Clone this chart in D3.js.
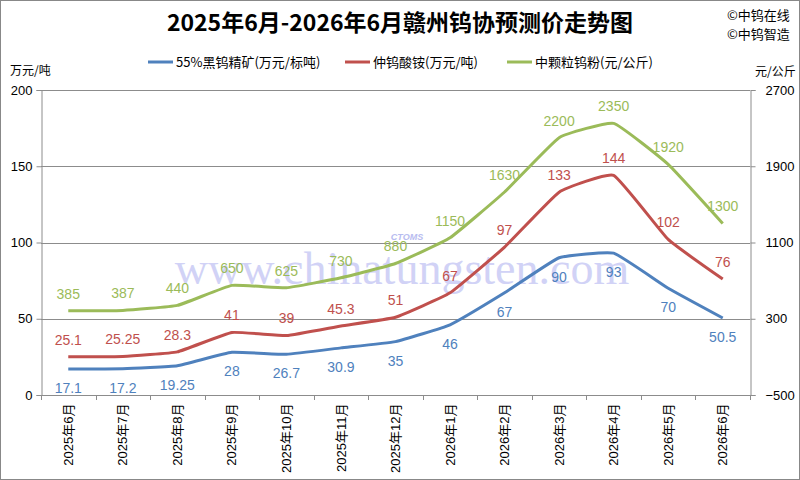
<!DOCTYPE html>
<html>
<head>
<meta charset="utf-8">
<script src="https://cdn.jsdelivr.net/npm/d3@7"></script>
<style>
  body { margin:0; background:#fff; }
  svg { display:block; font-family:"Liberation Sans","Noto Sans CJK SC",sans-serif; }
</style>
</head>
<body>
<svg id="chart"></svg>
<script>
var months = ["2025年6月","2025年7月","2025年8月","2025年9月","2025年10月","2025年11月","2025年12月",
              "2026年1月","2026年2月","2026年3月","2026年4月","2026年5月","2026年6月"];
var concentrate = [17.1,17.2,19.25,28,26.7,30.9,35,46,67,90,93,70,50.5];
var apt = [25.1,25.25,28.3,41,39,45.3,51,67,97,133,144,102,76];
var powder = [385,387,440,650,625,730,880,1150,1630,2200,2350,1920,1300];
var leftTicks = [0,50,100,150,200];
var rightTicks = [-500,300,1100,1900,2700];
var seriesNames = ["55%黑钨精矿(万元/标吨)","仲钨酸铵(万元/吨)","中颗粒钨粉(元/公斤)"];

drawChart("#chart");

function drawChart(id){
  var W = 800, H = 480;
  var left = 41, right = 750, top = 90, bottom = 395;
  var blue = "#4F81BD", red = "#C0504D", green = "#9BBB59";

  var svg = d3.select(id).attr("width",W).attr("height",H);

  svg.append("rect").attr("x",0.5).attr("y",0.5).attr("width",W-1).attr("height",H-1)
     .attr("fill","#fff").attr("stroke","#888");

  var x = d3.scaleBand().domain(months).range([left,right]);
  var yL = d3.scaleLinear().domain([0,200]).range([bottom,top]);
  var yR = d3.scaleLinear().domain([-500,2700]).range([bottom,top]);

  // watermark
  var wm = svg.append("g").attr("pointer-events","none");
  wm.append("text").attr("x",407).attr("y",240).attr("text-anchor","middle")
    .attr("font-family","Liberation Sans, sans-serif").attr("font-style","italic").attr("font-weight","bold")
    .attr("font-size",9).attr("fill","#b8bcf0").text("CTOMS");
  wm.append("text").attr("x",402).attr("y",284).attr("text-anchor","middle")
    .attr("font-family","Liberation Serif, DejaVu Serif, serif").attr("font-size",46)
    .attr("fill","#c9cbf5").attr("opacity",0.85).text("www.chinatungsten.com");

  // grid
  svg.append("g").selectAll("line").data(leftTicks).enter().append("line")
     .attr("x1",left).attr("x2",right)
     .attr("y1",function(d){return Math.round(yL(d))+0.5;})
     .attr("y2",function(d){return Math.round(yL(d))+0.5;})
     .attr("stroke","#8c8c8c").attr("stroke-width",1);

  // axes
  var gl = svg.append("g").attr("transform","translate("+(left+0.5)+",0)")
     .call(d3.axisLeft(yL).tickValues(leftTicks).tickSize(5).tickPadding(4));
  var gr = svg.append("g").attr("transform","translate("+(right+0.5)+",0)")
     .call(d3.axisRight(yR).tickValues(rightTicks).tickFormat(d3.format("d")).tickSize(5).tickPadding(10));
  var gb = svg.append("g").attr("transform","translate(0,"+(bottom+0.5)+")")
     .call(d3.axisBottom(x).tickSize(0).tickPadding(0));
  [gl,gr,gb].forEach(function(g){
    g.selectAll("path,line").attr("stroke","#8c8c8c");
    g.selectAll("text").attr("fill","#000").attr("font-size",13)
     .attr("font-family","Liberation Sans, sans-serif");
  });
  gb.select(".domain").attr("d","M"+left+",0H"+right);
  gb.selectAll(".tick text")
    .attr("font-size",13)
    .attr("font-family","Liberation Sans, Noto Sans CJK SC, sans-serif")
    .attr("transform","rotate(-90)")
    .attr("text-anchor","end").attr("dy","0.35em").attr("x",-8).attr("y",0);
  // category boundary ticks
  var bounds = months.map(function(m){return x(m);}).concat([right]);
  svg.append("g").selectAll("line").data(bounds).enter().append("line")
     .attr("x1",function(d){return Math.round(d)+0.5;}).attr("x2",function(d){return Math.round(d)+0.5;})
     .attr("y1",bottom).attr("y2",bottom+5).attr("stroke","#8c8c8c");

  // lines
  var series = [
    {vals:concentrate, y:yL, color:blue, dy:19},
    {vals:apt, y:yL, color:red, dy:-17},
    {vals:powder, y:yR, color:green, dy:-17}
  ];
  series.forEach(function(s){
    var line = d3.line()
      .x(function(d,i){return x(months[i])+x.bandwidth()/2;})
      .y(function(d){return s.y(d);})
      .curve(d3.curveCardinal.tension(0.65));
    svg.append("path").datum(s.vals).attr("d",line)
       .attr("fill","none").attr("stroke",s.color).attr("stroke-width",3)
       .attr("stroke-linejoin","round");
  });
  series.forEach(function(s){
    svg.append("g").selectAll("text").data(s.vals).enter().append("text")
       .attr("x",function(d,i){return x(months[i])+x.bandwidth()/2;})
       .attr("y",function(d){return s.y(d)+s.dy;})
       .attr("dy","0.35em").attr("text-anchor","middle")
       .attr("font-size",14).attr("fill",s.color)
       .attr("font-family","Liberation Sans, sans-serif")
       .text(function(d){return d;});
  });

  // title
  svg.append("text").attr("x",400).attr("y",31).attr("text-anchor","middle")
     .attr("font-size",23).attr("font-weight","bold")
     .attr("font-family","Noto Sans CJK SC, sans-serif")
     .text("2025年6月-2026年6月赣州钨协预测价走势图");
  svg.append("text").attr("x",727).attr("y",20).attr("font-size",13)
     .attr("font-family","Noto Sans CJK SC, sans-serif").text("©中钨在线");
  svg.append("text").attr("x",727).attr("y",39).attr("font-size",13)
     .attr("font-family","Noto Sans CJK SC, sans-serif").text("©中钨智造");

  // legend
  var legX = [148,345,507];
  var colors = [blue,red,green];
  var leg = svg.append("g").selectAll("g").data(seriesNames).enter().append("g")
     .attr("transform",function(d,i){return "translate("+legX[i]+",62)";});
  leg.append("line").attr("x1",0).attr("x2",25).attr("y1",0).attr("y2",0)
     .attr("stroke",function(d,i){return colors[i];}).attr("stroke-width",3);
  leg.append("text").attr("x",28).attr("dy","0.35em").attr("font-size",13)
     .attr("font-family","Noto Sans CJK SC, sans-serif").text(function(d){return d;});

  // axis unit labels
  svg.append("text").attr("x",10).attr("y",75).attr("font-size",12)
     .attr("font-family","Noto Sans CJK SC, sans-serif").text("万元/吨");
  svg.append("text").attr("x",755).attr("y",76).attr("font-size",12)
     .attr("font-family","Noto Sans CJK SC, sans-serif").text("元/公斤");
}
</script>
</body>
</html>
